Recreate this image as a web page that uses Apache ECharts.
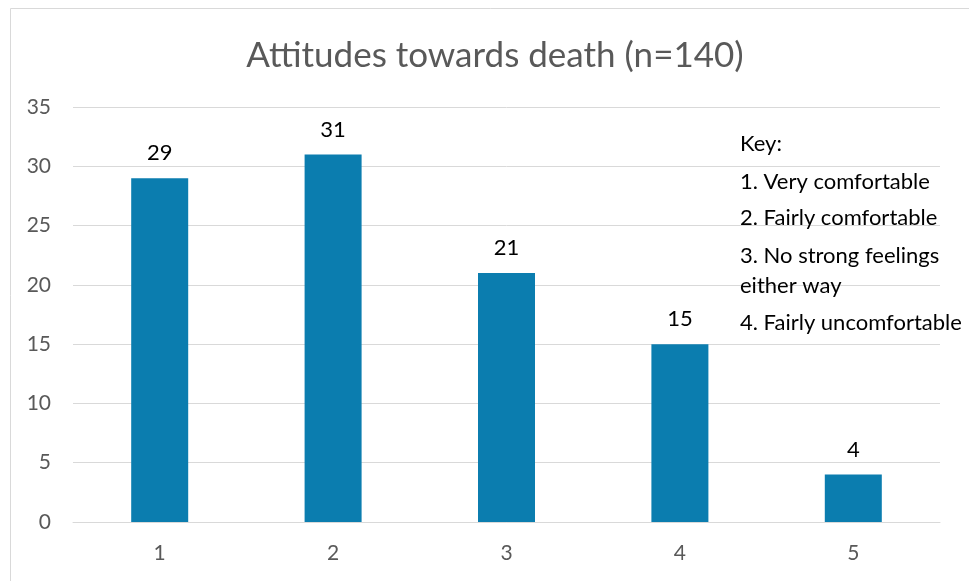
<!DOCTYPE html>
<html>
<head>
<meta charset="utf-8">
<script src="https://cdn.jsdelivr.net/npm/echarts@6/dist/echarts.min.js"></script>
<style>
  html, body { margin: 0; padding: 0; background: #fff; }
  #chart { width: 969px; height: 581px; }
</style>
</head>
<body>
<div id="chart"></div>
<script>
// Responses per attitude category
const categories = ['1', '2', '3', '4', '5'];
const counts = [29, 31, 21, 15, 4];
const yTicks = [0, 5, 10, 15, 20, 25, 30, 35];
const keyLines = [
  'Key:',
  '1. Very comfortable',
  '2. Fairly comfortable',
  '3. No strong feelings',
  'either way',
  '4. Fairly uncomfortable'
];
const keyLineY = [146, 184, 220, 258, 288, 325];

const FONT = 'Lato, "Open Sans", sans-serif';
const chart = echarts.init(document.getElementById('chart'), null, { renderer: 'canvas' });

const keyText = keyLines.map((t, i) => ({
  type: 'text',
  left: 740,
  top: keyLineY[i] - 13,
  style: { text: t, fontSize: 22, fontFamily: FONT, fill: '#000' },
  z: 10
}));

chart.setOption({
  animation: false,
  title: {
    text: 'Attitudes towards death (n=140)',
    left: 490,
    textAlign: 'center',
    top: 33,
    textStyle: { fontSize: 35, fontWeight: 'normal', color: '#595959', fontFamily: FONT }
  },
  grid: { left: 73, right: 29, top: 107, bottom: 59 },
  xAxis: {
    type: 'category',
    data: categories,
    axisLine: { lineStyle: { color: '#D9D9D9', width: 1 } },
    axisTick: { show: false },
    axisLabel: { color: '#595959', fontSize: 21, fontFamily: FONT, margin: 21 }
  },
  yAxis: {
    type: 'value',
    min: yTicks[0],
    max: yTicks[yTicks.length - 1],
    interval: 5,
    axisLine: { show: false },
    axisTick: { show: false },
    splitLine: { lineStyle: { color: '#D9D9D9', width: 1 } },
    axisLabel: { color: '#595959', fontSize: 21, fontFamily: FONT, margin: 22 }
  },
  series: [{
    type: 'bar',
    data: counts,
    barWidth: 57,
    itemStyle: { color: '#0B7DAF' },
    label: {
      show: true,
      position: 'top',
      distance: 14,
      color: '#000',
      fontSize: 22,
      fontFamily: FONT
    }
  }],
  graphic: [
    {
      type: 'rect',
      shape: { x: 10.5, y: 8.5, width: 1000, height: 1000 },
      style: { fill: 'none', stroke: '#D9D9D9', lineWidth: 1 },
      silent: true,
      z: -1
    }
  ].concat(keyText)
});
</script>
</body>
</html>
